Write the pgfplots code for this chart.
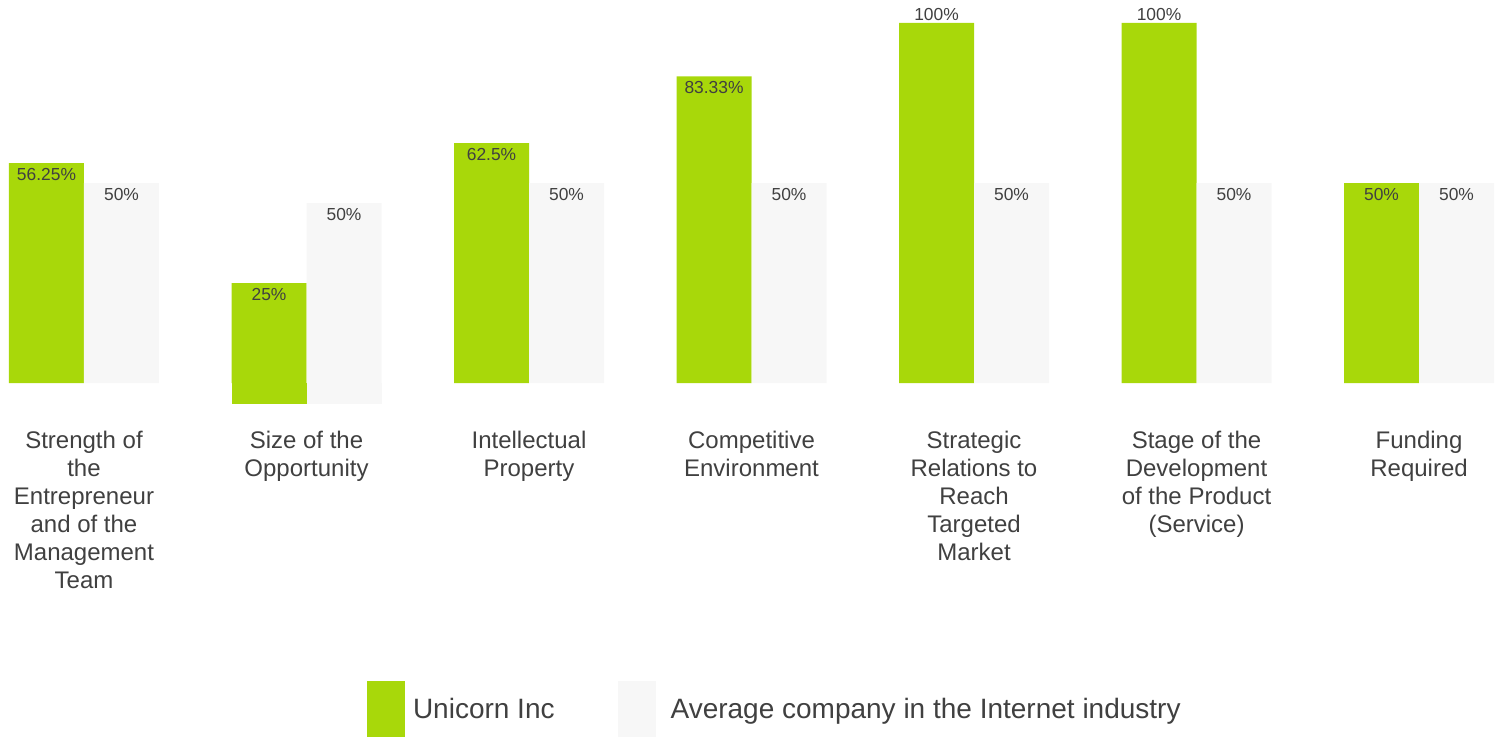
\documentclass[border=0pt]{standalone}
\usepackage{fontspec}
\setmainfont{Liberation Sans}
\usepackage{pgfplots}
\usepackage{pgfplotstable}
\pgfplotsset{compat=1.18}

\definecolor{unigreen}{RGB}{168,216,10}
\definecolor{avggrey}{RGB}{247,247,247}
\definecolor{txtgrey}{RGB}{64,64,64}

% x: category, v: value in %, d: drop of the baseline, dy: label offset (pt)
\pgfplotstableread{
x v     d    dy
0 56.25 0    -2.5
1 25    6.25 -2.5
2 62.5  0    -2.5
3 83.33 0    -2.5
4 100   0    7.5
5 100   0    7.5
6 50    0    -2.5
}\unicorn
\pgfplotstableread{
x v  d    dy
0 50 0    -2.5
1 50 6.25 -2.5
2 50 0    -2.5
3 50 0    -2.5
4 50 0    -2.5
5 50 0    -2.5
6 50 0    -2.5
}\average

\pgfplotsset{
    valuelabels/.style={
        nodes near coords={\pgfplotspointmeta\%},
        point meta=explicit symbolic,
        visualization depends on={\thisrow{dy} \as \dy},
        every node near coord/.append style={anchor=north, inner sep=0pt,
            xshift=#1, yshift=\dy pt, text=txtgrey,
            font=\fontsize{8.7}{10}\selectfont},
    },
}

\begin{document}
\begin{tikzpicture}
\begin{axis}[
    at={(0pt,0pt)}, anchor=north west,
    scale only axis,
    width=750.5pt, height=201.5pt,
    xmin=-0.3775, xmax=6.3685,
    ymin=-6.25, ymax=119.6875,
    clip=false,
    axis line style={draw=none},
    tick style={draw=none},
    ytick=\empty,
    xtick={0,...,6},
    xticklabels={
        {Strength of\\the\\Entrepreneur\\and of the\\Management\\Team},
        {Size of the\\Opportunity},
        {Intellectual\\Property},
        {Competitive\\Environment},
        {Strategic\\Relations to\\Reach\\Targeted\\Market},
        {Stage of the\\Development\\of the Product\\(Service)},
        {Funding\\Required}},
    xticklabel style={align=center, text=txtgrey,
        font=\fontsize{12}{14}\selectfont, yshift=-10.5pt},
    legend columns=2,
    legend image code/.code={\fill[#1] (0pt,-13.5pt) rectangle (19pt,14.5pt);},
    legend style={at={(0.2445,-0.8288)}, anchor=south west, draw=none,
        fill=none, inner sep=0pt, outer sep=0pt,
        nodes={inner sep=0pt, text=txtgrey, font=\fontsize{14}{16}\selectfont}},
]
\addplot[ybar, bar width=37.5pt, bar shift=-18.75pt, fill=unigreen, draw=none,
    valuelabels=-18.75pt]
    table[x=x, y expr=\thisrow{v}+12.5-\thisrow{d}, meta=v] {\unicorn};
\addlegendentry{\hspace*{4pt}Unicorn Inc\hspace*{31.5pt}}
\addplot[ybar, bar width=37.5pt, bar shift=18.75pt, fill=avggrey, draw=none,
    valuelabels=18.75pt]
    table[x=x, y expr=\thisrow{v}+12.5-\thisrow{d}, meta=v] {\average};
\addlegendentry{\hspace*{7.5pt}Average company in the Internet industry}
% the second category stands 6.25 lower than the others
\addplot[ybar, bar width=37.3pt, bar shift=-18.75pt, fill=unigreen,
    draw=unigreen, line width=0.2pt, forget plot]
    coordinates {(1,-6.25)};
\addplot[ybar, bar width=37.3pt, bar shift=18.75pt, fill=avggrey,
    draw=avggrey, line width=0.2pt, forget plot]
    coordinates {(1,-6.25)};
\end{axis}
\pgfresetboundingbox
\useasboundingbox (0pt,0pt) rectangle (750.5pt,-368.5pt);
\end{tikzpicture}
\end{document}
